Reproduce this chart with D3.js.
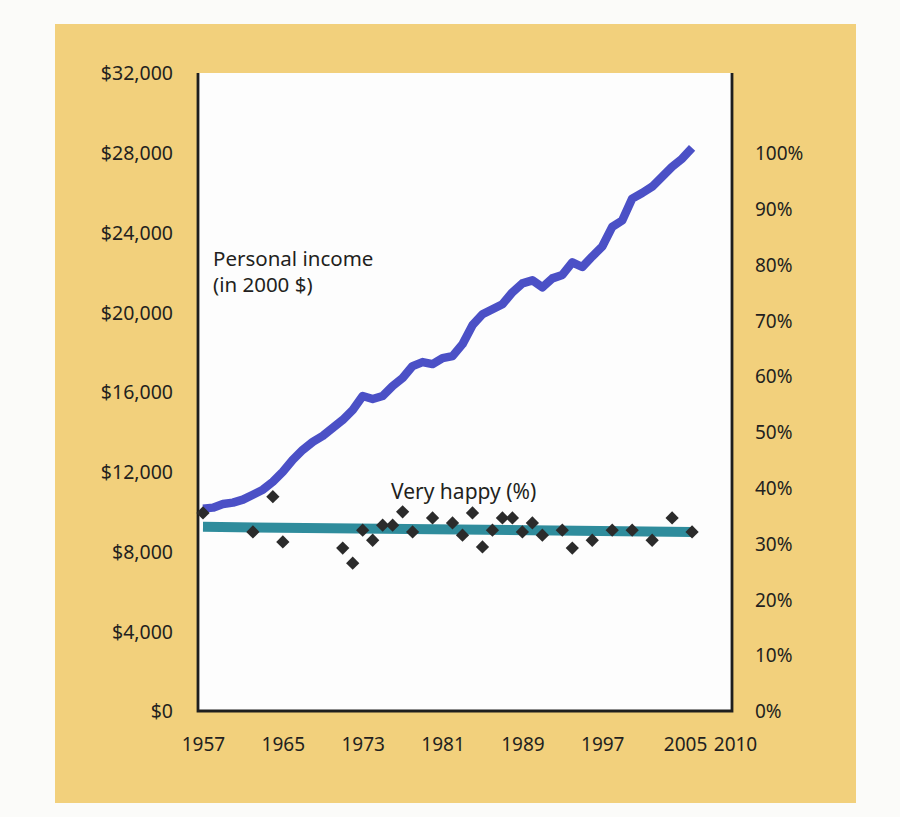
<!DOCTYPE html>
<html>
<head>
<meta charset="utf-8">
<script src="https://cdn.jsdelivr.net/npm/d3@7"></script>
<style>
  html, body { margin: 0; padding: 0; background: #fbfbf9; }
  svg { display: block; }
  text { font-family: "Noto Sans", "Open Sans", sans-serif; fill: #231f20; }
</style>
</head>
<body>
<div id="chart"></div>
<script>
// Datos
const incomeYears = d3.range(1957, 2007);
const incomeValues = [
  10150, 10200, 10380, 10450, 10600, 10850, 11100, 11500, 12000, 12600,
  13100, 13500, 13800, 14200, 14600, 15100, 15800, 15650, 15800, 16300,
  16700, 17300, 17500, 17400, 17700, 17800, 18400, 19350, 19900, 20150,
  20400, 21000, 21450, 21600, 21250, 21700, 21870, 22500, 22270, 22800,
  23300, 24280, 24600, 25700, 25980, 26300, 26800, 27300, 27700, 28240
];

const happyYears = [1957, 1962, 1964, 1965, 1971, 1972, 1973, 1974, 1975, 1976,
  1977, 1978, 1980, 1982, 1983, 1984, 1985, 1986, 1987, 1988, 1989, 1990, 1991,
  1993, 1994, 1996, 1998, 2000, 2002, 2004, 2006];
const happyValues = [35.5, 32.1, 38.4, 30.3, 29.2, 26.5, 32.4, 30.6, 33.3, 33.3,
  35.7, 32.1, 34.6, 33.7, 31.5, 35.5, 29.4, 32.4, 34.6, 34.6, 32.1, 33.7, 31.5,
  32.4, 29.2, 30.6, 32.4, 32.4, 30.6, 34.6, 32.1];

// Línea de tendencia (extremos)
const trendYears = [1957, 2006];
const trendValues = [33.0, 32.1];

const xTicks = [1957, 1965, 1973, 1981, 1989, 1997, 2005, 2010];
const incomeTicks = [0, 4000, 8000, 12000, 16000, 20000, 24000, 28000, 32000];
const pctTicks = [0, 10, 20, 30, 40, 50, 60, 70, 80, 90, 100];

const width = 900, height = 817;
const plot = {left: 198, right: 732, top: 73, bottom: 711};

const svg = d3.select('#chart').append('svg')
  .attr('width', width)
  .attr('height', height);

// Fondo dorado
svg.append('rect')
  .attr('x', 55).attr('y', 24)
  .attr('width', 801).attr('height', 779)
  .attr('fill', '#f2d07c');

svg.append('rect')
  .attr('x', plot.left).attr('y', plot.top)
  .attr('width', plot.right - plot.left).attr('height', plot.bottom - plot.top)
  .attr('fill', '#fdfdfd');

const x = d3.scaleLinear().domain([1956.5, 2010]).range([plot.left, plot.right]);
const yInc = d3.scaleLinear().domain([0, 32000]).range([plot.bottom, plot.top]);
const yPct = d3.scaleLinear().domain([0, 100]).range([plot.bottom, 153]);

// Ejes
const fmtMoney = d => '$' + d3.format(',')(d);

svg.append('g')
  .attr('transform', 'translate(173,0)')
  .call(d3.axisLeft(yInc).tickValues(incomeTicks).tickFormat(fmtMoney).tickSize(0).tickPadding(0))
  .call(g => g.select('.domain').remove())
  .selectAll('text').attr('font-size', 19.5).attr('dy', '0.35em');

svg.append('g')
  .attr('transform', 'translate(755,0)')
  .call(d3.axisRight(yPct).tickValues(pctTicks).tickFormat(d => d + '%').tickSize(0).tickPadding(0))
  .call(g => g.select('.domain').remove())
  .selectAll('text').attr('font-size', 19).attr('dy', '0.35em');

const xAxis = svg.append('g')
  .attr('transform', 'translate(0,' + (plot.bottom + 24) + ')')
  .call(d3.axisBottom(x).tickValues(xTicks).tickFormat(d3.format('d')).tickSize(0).tickPadding(0))
  .call(g => g.select('.domain').remove());
xAxis.selectAll('text').attr('font-size', 19).attr('dy', '0.85em')
  .attr('dx', d => d >= 2005 ? 3 : 0);

svg.selectAll('.tick text').attr('fill', '#231f20');

// Marco
svg.append('path')
  .attr('d', 'M' + plot.left + ',' + plot.top + 'V' + plot.bottom + 'H' + plot.right + 'V' + plot.top)
  .attr('fill', 'none')
  .attr('stroke', '#1e1e1e')
  .attr('stroke-width', 2.8);

// Tendencia
svg.append('path')
  .datum(trendYears.map((d, i) => [d, trendValues[i]]))
  .attr('d', d3.line().x(d => x(d[0])).y(d => yPct(d[1])))
  .attr('fill', 'none')
  .attr('stroke', '#2f8c9c')
  .attr('stroke-width', 10);

// Ingresos
svg.append('path')
  .datum(incomeYears.map((d, i) => [d, incomeValues[i]]))
  .attr('d', d3.line().x(d => x(d[0])).y(d => yInc(d[1])))
  .attr('fill', 'none')
  .attr('stroke', '#4b50c6')
  .attr('stroke-width', 8.5)
  .attr('stroke-linejoin', 'round');

// Muy felices
svg.selectAll('.happy')
  .data(happyYears.map((d, i) => [d, happyValues[i]]))
  .enter()
  .append('path')
  .attr('class', 'happy')
  .attr('d', d3.symbol().type(d3.symbolSquare).size(88))
  .attr('transform', d => 'translate(' + x(d[0]) + ',' + yPct(d[1]) + ') rotate(45)')
  .attr('fill', '#2b2b2b');

// Etiquetas
svg.append('text').attr('x', 213).attr('y', 266).attr('font-size', 20.5).text('Personal income');
svg.append('text').attr('x', 213).attr('y', 292).attr('font-size', 20.5).text('(in 2000 $)');
svg.append('text').attr('x', 391).attr('y', 499).attr('font-size', 21).text('Very happy (%)');
</script>
</body>
</html>
